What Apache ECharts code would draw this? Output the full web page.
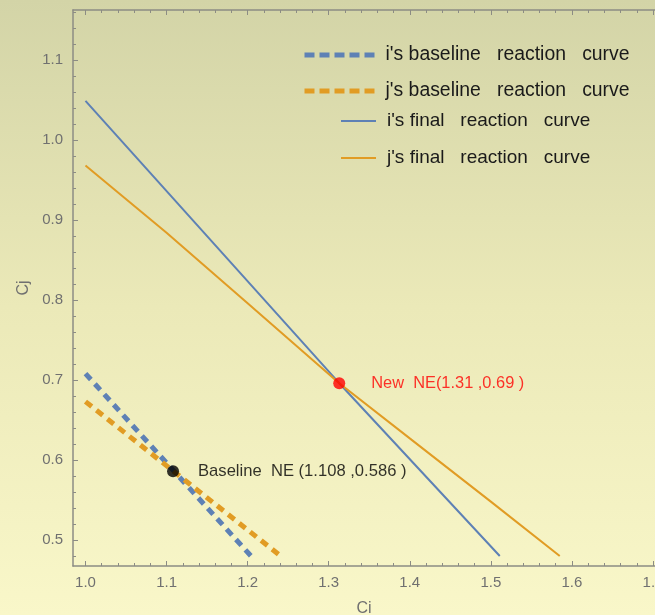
<!DOCTYPE html>
<html><head><meta charset="utf-8">
<script src="https://cdn.jsdelivr.net/npm/echarts@6/dist/echarts.min.js"></script>
<style>html,body{margin:0;padding:0;background:#fff;}#c{width:655px;height:615px;}</style>
</head><body><div id="c"></div>
<script>
// ---- data ----
const iBaseCi = [1.0, 1.205];
const iBaseCj = [0.708, 0.479];
const jBaseCi = [1.0, 1.242];
const jBaseCj = [0.673, 0.479];
const iFinalCi = [1.0, 1.313, 1.511];
const iFinalCj = [1.049, 0.696, 0.480];
const jFinalCi = [1.0, 1.1, 1.2, 1.313, 1.4, 1.5, 1.585];
const jFinalCj = [0.968, 0.884, 0.796, 0.696, 0.627, 0.548, 0.480];
const baselineNE = [1.108, 0.586];
const newNE = [1.313, 0.696];
const seriesNames = ["i's baseline   reaction   curve", "j's baseline   reaction   curve",
                     "i's final   reaction   curve", "j's final   reaction   curve"];
const baselineLabel = "Baseline  NE (1.108 ,0.586 )";
const newLabel = "New  NE(1.31 ,0.69 )";
const xTicks = [1.0, 1.1, 1.2, 1.3, 1.4, 1.5, 1.6, 1.7];
const yTicks = [0.5, 0.6, 0.7, 0.8, 0.9, 1.0, 1.1];
const xRange = [0.9846, 1.7025];
const yRange = [0.4675, 1.1625];

// minor tick positions (every 0.02) for the frame
function minors(lo, hi) {
  const out = [];
  for (let k = Math.ceil(lo * 50); k <= Math.floor(hi * 50); k++) {
    if (k % 5 !== 0) out.push(+(k / 50).toFixed(2));
  }
  return out;
}
const xMinor = minors(xRange[0], xRange[1]);
const yMinor = minors(yRange[0], yRange[1]);

const pts = (xs, ys) => xs.map((x, i) => [x, ys[i]]);
const BLUE = '#5e81b5', ORANGE = '#e19c24';
const FONT = "'Liberation Sans', Arial, sans-serif";
const AX = '#8c8c84';

const chart = echarts.init(document.getElementById('c'), null, {renderer: 'canvas'});

function xAx(pos, major, withLabel) {
  return {
    type: 'value', position: pos, min: xRange[0], max: xRange[1],
    axisLine: {show: major, lineStyle: {color: AX, width: 1.5}},
    axisTick: {show: true, inside: true, length: major ? 5 : 3,
               customValues: major ? xTicks : xMinor, lineStyle: {color: AX, width: 1}},
    axisLabel: withLabel ? {show: true, customValues: xTicks, formatter: v => v.toFixed(1),
               color: '#707070', fontSize: 15, fontFamily: FONT, margin: 9} : {show: false},
    splitLine: {show: false},
    name: withLabel ? 'Ci' : '', nameLocation: 'middle', nameGap: 35,
    nameTextStyle: {color: '#707070', fontSize: 16, fontFamily: FONT}
  };
}
function yAx(major, withLabel) {
  return {
    type: 'value', position: 'left', min: yRange[0], max: yRange[1],
    axisLine: {show: major, lineStyle: {color: AX, width: 1.5}},
    axisTick: {show: true, inside: true, length: major ? 5 : 3,
               customValues: major ? yTicks : yMinor, lineStyle: {color: AX, width: 1}},
    axisLabel: withLabel ? {show: true, customValues: yTicks, formatter: v => v.toFixed(1),
               color: '#707070', fontSize: 15, fontFamily: FONT, margin: 10} : {show: false},
    splitLine: {show: false},
    name: withLabel ? 'Cj' : '', nameLocation: 'middle', nameGap: 34, nameRotate: 90,
    nameTextStyle: {color: '#707070', fontSize: 16, fontFamily: FONT}
  };
}
function legendFor(name, left, top, w, dashed, fs) {
  return {
    data: [name], left: left, top: top, padding: 0, itemWidth: w, itemHeight: 20,
    lineStyle: dashed ? {width: 5, type: [10, 5]} : {width: 2, type: 'solid'},
    itemStyle: {color: 'rgba(0,0,0,0)', borderWidth: 0, opacity: 0},
    textStyle: {fontSize: fs, fontFamily: FONT, color: '#1a1a1a', padding: [0, 0, 0, 6], lineHeight: 20},
    selectedMode: false
  };
}

chart.setOption({
  backgroundColor: new echarts.graphic.LinearGradient(0, 0, 0, 1, [
    {offset: 0, color: '#d3d4a7'},
    {offset: 0.5, color: '#ebe9b8'},
    {offset: 1, color: '#f9f7c9'}
  ]),
  animation: false,
  grid: {left: 73, top: 10, right: 0, bottom: 49, containLabel: false, outerBoundsMode: 'none'},
  xAxis: [xAx('bottom', true, true), xAx('bottom', false, false), xAx('top', true, false), xAx('top', false, false)],
  yAxis: [yAx(true, true), yAx(false, false)],
  legend: [
    legendFor(seriesNames[0], 302, 45, 70, true, 19.4),
    legendFor(seriesNames[1], 302, 81, 70, true, 19.4),
    legendFor(seriesNames[2], 340, 111, 35, false, 19),
    legendFor(seriesNames[3], 340, 148, 35, false, 19)
  ],
  series: [
    {name: seriesNames[0], type: 'line', data: pts(iBaseCi, iBaseCj), symbol: 'none',
     lineStyle: {color: BLUE, width: 5, type: [8, 6]}, itemStyle: {color: BLUE}},
    {name: seriesNames[1], type: 'line', data: pts(jBaseCi, jBaseCj), symbol: 'none',
     lineStyle: {color: ORANGE, width: 5, type: [8, 6]}, itemStyle: {color: ORANGE}},
    {name: seriesNames[2], type: 'line', data: pts(iFinalCi, iFinalCj), symbol: 'none',
     lineStyle: {color: BLUE, width: 2}, itemStyle: {color: BLUE}},
    {name: seriesNames[3], type: 'line', data: pts(jFinalCi, jFinalCj), symbol: 'none',
     lineStyle: {color: ORANGE, width: 2}, itemStyle: {color: ORANGE}},
    {name: 'Baseline NE', type: 'scatter', data: [baselineNE], symbolSize: 12, z: 5,
     itemStyle: {color: '#000'},
     label: {show: true, position: 'right', distance: 19, formatter: baselineLabel,
             color: '#000', fontSize: 16.6, fontFamily: FONT}},
    {name: 'New NE', type: 'scatter', data: [newNE], symbolSize: 12, z: 5,
     itemStyle: {color: '#ff0000'},
     label: {show: true, position: 'right', distance: 26, formatter: newLabel,
             color: '#ff0000', fontSize: 16.4, fontFamily: FONT}}
  ]
});
</script></body></html>
